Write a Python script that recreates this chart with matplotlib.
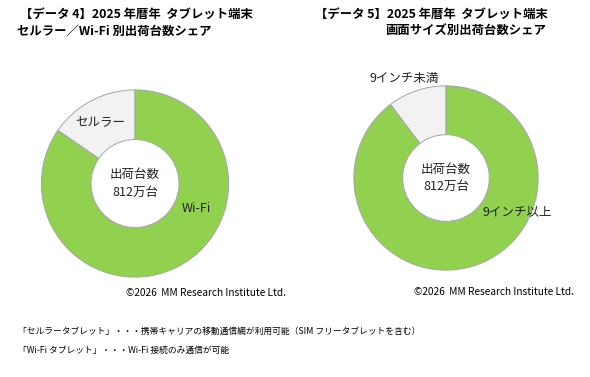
import matplotlib.pyplot as plt

plt.rcParams['font.family'] = ['Noto Sans CJK JP', 'DejaVu Sans']

# データ
total_label = "出荷台数\n812万台"
type_labels = ["セルラー", "Wi-Fi"]
type_share = [15.4, 84.6]
size_labels = ["9インチ未満", "9インチ以上"]
size_share = [10.3, 89.7]

colors = ['#F2F2F2', '#92D050']
W, H = 590, 377

fig = plt.figure(figsize=(W / 100, H / 100), dpi=100)


def donut(cx, cy, r, values):
    ax = fig.add_axes([(cx - r) / W, (H - cy - r) / H, 2 * r / W, 2 * r / H])
    ax.pie(values, colors=colors, startangle=90, counterclock=True, radius=1,
           wedgeprops=dict(width=0.53, edgecolor='#A6A6A6', linewidth=0.7))
    ax.set_xlim(-1.02, 1.02)
    ax.set_ylim(-1.02, 1.02)
    ax.set_aspect('auto')
    ax.axis('off')
    ax.text(0, 0, total_label, ha='center', va='center', fontsize=9,
            linespacing=1.45, color='#222222')
    return ax


ax1 = donut(135, 183.5, 95.5, type_share)
ax1.text(-0.37, 0.65, type_labels[0], ha='center', va='center', fontsize=9, color='#222222')
ax1.text(0.66, -0.27, type_labels[1], ha='center', va='center', fontsize=9, color='#222222')

ax2 = donut(446, 178, 94, size_share)
ax2.text(-0.45, 1.085, size_labels[0], ha='center', va='center', fontsize=9,
         color='#222222', clip_on=False)
ax2.text(0.77, -0.37, size_labels[1], ha='center', va='center', fontsize=9, color='#222222')

# タイトル
fig.text(20 / W, 1 - 14 / H, "【データ 4】2025 年暦年  タブレット端末", ha='left', va='center',
         fontsize=8.9, fontweight='bold')
fig.text(17 / W, 1 - 31 / H, "セルラー／Wi-Fi 別出荷台数シェア", ha='left', va='center',
         fontsize=8.9, fontweight='bold')
fig.text(548 / W, 1 - 14 / H, "【データ 5】2025 年暦年  タブレット端末", ha='right', va='center',
         fontsize=8.9, fontweight='bold')
fig.text(546 / W, 1 - 31 / H, "画面サイズ別出荷台数シェア", ha='right', va='center',
         fontsize=8.9, fontweight='bold')

# 著作権表示
fig.text(206 / W, 1 - 293 / H, "©2026  MM Research Institute Ltd.", ha='center', va='center',
         fontsize=7.3)
fig.text(494 / W, 1 - 292 / H, "©2026  MM Research Institute Ltd.", ha='center', va='center',
         fontsize=7.3)

# 注記
fig.text(18 / W, 1 - 331 / H,
         "「セルラータブレット」・・・携帯キャリアの移動通信網が利用可能（SIM フリータブレットを含む）",
         ha='left', va='center', fontsize=6.3)
fig.text(18 / W, 1 - 350 / H, "「Wi-Fi タブレット」・・・Wi-Fi 接続のみ通信が可能",
         ha='left', va='center', fontsize=6.3)

fig.savefig('out.png', dpi=100)
